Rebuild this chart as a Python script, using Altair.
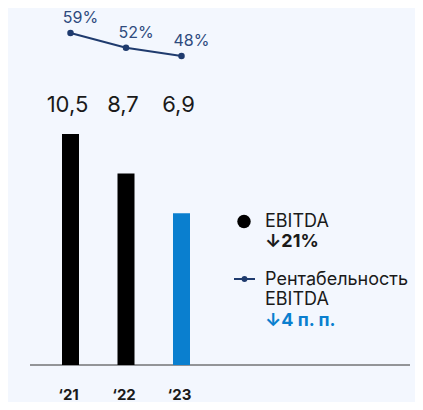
import altair as alt
import pandas as pd

# ---- data ----
years = ["‘21", "‘22", "‘23"]
ebitda = [10.5, 8.7, 6.9]
ebitda_labels = ["10,5", "8,7", "6,9"]
margin = [59, 52, 48]
margin_labels = ["59%", "52%", "48%"]
bar_colors = ["#000000", "#000000", "#0A7FCF"]

df = pd.DataFrame({
    "year": years,
    "ebitda": ebitda,
    "elabel": ebitda_labels,
    "margin": margin,
    "mlabel": margin_labels,
    "color": bar_colors,
})

W, H = 407, 394
NAVY = "#1F3B6E"
BLUE = "#0A7FCF"
FONT = "Inter"

xenc = alt.X("year:N", sort=years,
             scale=alt.Scale(type="point", domain=years, range=[62.5, 173.5], padding=0),
             axis=None)
ybar = alt.Scale(domain=[-37 / 22, 357 / 22], zero=False, nice=False)
yline = alt.Scale(domain=[-117.5, 71], zero=False, nice=False)

base = alt.Chart(df)

bars = base.mark_bar(size=17).encode(
    x=xenc,
    y=alt.Y("ebitda:Q", scale=ybar, axis=None),
    color=alt.Color("color:N", scale=None),
)
rule = alt.Chart(pd.DataFrame({"v": [0]})).mark_rule(color="#333333", strokeWidth=1).encode(
    y=alt.Y("v:Q", scale=ybar, axis=None),
    x=alt.value(22), x2=alt.value(402),
)
vals = base.mark_text(fontSize=22, font=FONT, color="#1A1A1A", dx=-3, baseline="middle").encode(
    x=xenc, y=alt.value(97), text="elabel:N")
yrs = base.mark_text(fontSize=15, font=FONT, fontWeight="bold", color="#1A1A1A", baseline="middle",
                     dx=-2).encode(
    x=xenc, y=alt.value(386.5), text="year:N")

line = base.mark_line(color=NAVY, strokeWidth=2,
                      point=alt.OverlayMarkDef(color=NAVY, size=42, filled=True, opacity=1)).encode(
    x=xenc, y=alt.Y("margin:Q", scale=yline, axis=None))
pct = base.mark_text(fontSize=16, font=FONT, color="#2E4A7D", dx=10, dy=-15, baseline="middle").encode(
    x=xenc, y=alt.Y("margin:Q", scale=yline, axis=None), text="mlabel:N")

one = pd.DataFrame({"a": [0]})
def txt(t, x, y, bold=False, color="#1A1A1A"):
    return alt.Chart(one).mark_text(text=t, fontSize=18, font=FONT, align="left", baseline="middle",
                                    fontWeight="bold" if bold else "normal", color=color).encode(
        x=alt.value(x), y=alt.value(y))

leg_dot = alt.Chart(one).mark_point(shape="circle", filled=True, color="#000000", size=180, opacity=1).encode(
    x=alt.value(236), y=alt.value(213.5))
leg_line = alt.Chart(one).mark_rule(color=NAVY, strokeWidth=2).encode(
    x=alt.value(226), x2=alt.value(247), y=alt.value(271))
leg_pt = alt.Chart(one).mark_point(shape="circle", filled=True, color=NAVY, size=34, opacity=1).encode(
    x=alt.value(236.5), y=alt.value(271))

legend = alt.layer(
    leg_dot, txt("EBITDA", 257, 213.5), txt("↓21%", 257, 234, bold=True),
    leg_line, leg_pt, txt("Рентабельность", 257, 272), txt("EBITDA", 257, 292),
    txt("↓4 п. п.", 257, 313, bold=True, color=BLUE),
)

chart = alt.layer(
    alt.layer(rule, bars, vals, yrs),
    alt.layer(line, pct),
    legend,
).resolve_scale(y="independent").properties(
    width=W, height=H, autosize=alt.AutoSizeParams(type="none"), padding=0,
    background="#F3F7FE",
).configure_view(stroke=None)

chart.save("out.html", embed_options={"renderer": "svg", "actions": False})
